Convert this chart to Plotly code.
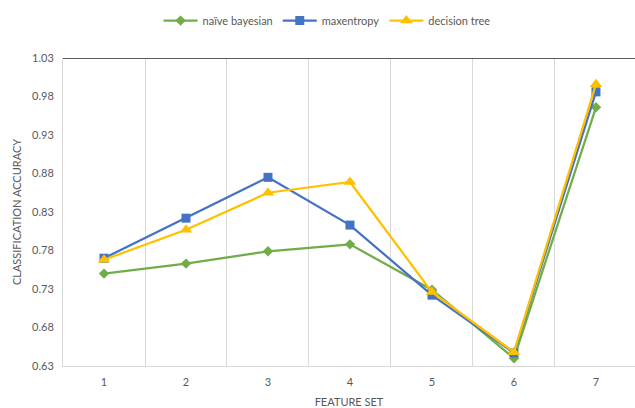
import plotly.graph_objects as go

# Classification accuracy per feature set for three classifiers
feature_sets = [1, 2, 3, 4, 5, 6, 7]
naive_bayesian = [0.750, 0.763, 0.779, 0.788, 0.729, 0.640, 0.966]
maxentropy = [0.770, 0.822, 0.875, 0.813, 0.722, 0.647, 0.986]
decision_tree = [0.768, 0.807, 0.855, 0.869, 0.726, 0.648, 0.996]
y_ticks = [0.63, 0.68, 0.73, 0.78, 0.83, 0.88, 0.93, 0.98, 1.03]

FONT = "Lato, 'Liberation Sans', sans-serif"
TEXT = "#595959"

fig = go.Figure()
series = [
    ("naïve bayesian", naive_bayesian, "#70AD47", "diamond", 8),
    ("maxentropy", maxentropy, "#4472C4", "square", 9),
    ("decision tree", decision_tree, "#FFC000", "triangle-up", 11),
]
for name, vals, color, symbol, size in series:
    fig.add_trace(go.Scatter(
        x=feature_sets, y=vals, name=name, mode="lines+markers",
        line=dict(color=color, width=2.25),
        marker=dict(symbol=symbol, size=size, color=color),
    ))

fig.update_layout(
    width=635, height=408,
    margin=dict(l=63, r=0, t=58, b=42),
    paper_bgcolor="white", plot_bgcolor="white",
    font=dict(family=FONT, size=11, color=TEXT),
    showlegend=True,
    legend=dict(
        orientation="h", xref="container", yref="container",
        x=0.515, xanchor="center", y=0.985, yanchor="top",
        font=dict(size=11, color=TEXT), itemwidth=34,
        tracegroupgap=0,
    ),
    xaxis=dict(
        range=[0.5, 7.476], tickvals=feature_sets, ticktext=[str(v) for v in feature_sets],
        showgrid=False, zeroline=False, ticks="", ticklen=0, automargin=False,
        showline=True, linecolor="#D9D9D9", linewidth=1,
        tickfont=dict(size=11, color=TEXT), ticklabelstandoff=6,
        title=dict(text="FEATURE SET", font=dict(size=11, color=TEXT), standoff=14),
        minor=dict(tickvals=[0.5, 1.5, 2.5, 3.5, 4.5, 5.5, 6.5, 7.5],
                   showgrid=True, gridcolor="#D9D9D9", gridwidth=1, ticks=""),
    ),
    yaxis=dict(
        range=[0.63, 1.03], tickvals=y_ticks, ticktext=[f"{v:.2f}" for v in y_ticks],
        showgrid=False, zeroline=False, ticks="", automargin=False,
        showline=True, linecolor="#D9D9D9", linewidth=1,
        tickfont=dict(size=11, color=TEXT), ticklabelstandoff=6,
        title=dict(text="CLASSIFICATION ACCURACY", font=dict(size=11, color=TEXT), standoff=8),
    ),
)

# Dark rule along the top of the plotting area
fig.add_shape(type="line", xref="paper", yref="y", x0=0, x1=1, y0=1.03, y1=1.03,
              line=dict(color="#262626", width=1.5))

fig.write_html("out.html")
